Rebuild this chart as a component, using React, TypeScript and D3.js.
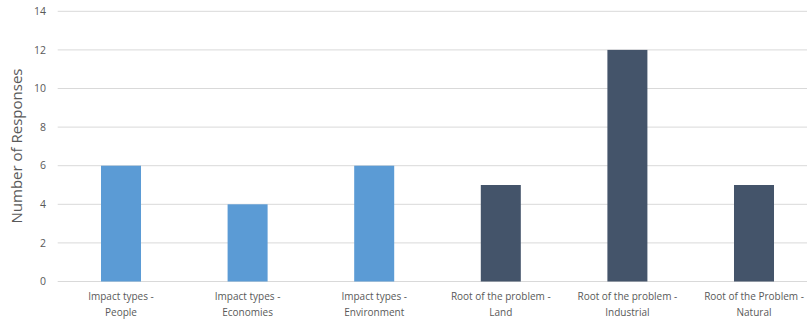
import React from "react";
import * as d3 from "d3";

const categories: string[][] = [
  ["Impact types -", "People"],
  ["Impact types -", "Economies"],
  ["Impact types -", "Environment"],
  ["Root of the problem -", "Land"],
  ["Root of the problem -", "Industrial"],
  ["Root of the Problem -", "Natural"],
];
const responses: number[] = [6, 4, 6, 5, 12, 5];
const groups: string[] = ["impact", "impact", "impact", "root", "root", "root"];
const yTicks: number[] = [0, 2, 4, 6, 8, 10, 12, 14];
const yTitle = "Number of Responses";

const W = 807;
const H = 320;
const FONT = "'Open Sans', 'Noto Sans', sans-serif";
const colors: Record<string, string> = { impact: "#5B9BD5", root: "#44546A" };

export default function App() {
  const x = d3
    .scaleBand<number>()
    .domain(d3.range(categories.length))
    .range([57.7, 817.3])
    .paddingInner(0.684)
    .paddingOuter(0.342);
  const y = d3.scaleLinear().domain([0, 14]).range([281.5, 11.3]);

  return (
    <svg
      width={W}
      height={H}
      style={{ position: "absolute", left: 0, top: 0, display: "block" }}
      fontFamily={FONT}
    >
      <rect width={W} height={H} fill="#fff" />
      {yTicks.map((t) => (
        <g key={t}>
          <line x1={57.7} x2={W} y1={y(t)} y2={y(t)} stroke="#D9D9D9" strokeWidth={1} />
          <text
            x={46}
            y={y(t)}
            dy="0.35em"
            textAnchor="end"
            fontSize={10.5}
            fill="#595959"
          >
            {t}
          </text>
        </g>
      ))}
      {responses.map((v, i) => (
        <rect
          key={i}
          x={x(i)}
          y={y(v)}
          width={x.bandwidth()}
          height={y(0) - y(v)}
          fill={colors[groups[i]]}
        />
      ))}
      {categories.map((lines, i) => (
        <text
          key={i}
          x={(x(i) as number) + x.bandwidth() / 2}
          textAnchor="middle"
          fontSize={10}
          fill="#595959"
        >
          {lines.map((l, j) => (
            <tspan key={j} x={(x(i) as number) + x.bandwidth() / 2} y={300 + j * 16}>
              {l}
            </tspan>
          ))}
        </text>
      ))}
      <text
        transform={`translate(22, 146) rotate(-90)`}
        textAnchor="middle"
        fontSize={15}
        fill="#595959"
      >
        {yTitle}
      </text>
    </svg>
  );
}
